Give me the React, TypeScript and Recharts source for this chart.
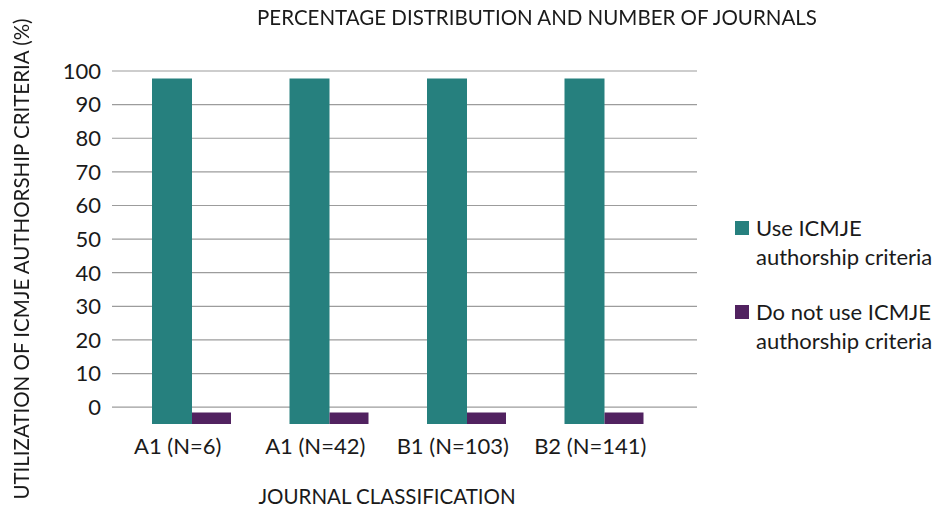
import React from 'react';
import { BarChart, Bar, XAxis, YAxis, CartesianGrid } from 'recharts';

const categories = ['A1 (N=6)', 'A1 (N=42)', 'B1 (N=103)', 'B2 (N=141)'];
const useValues = [97.8, 97.8, 97.8, 97.8];
const notUseValues = [-1.6, -1.6, -1.6, -1.6];
const axisFloor = -5;
const axisCeil = 100;
const yTicks = [0, 10, 20, 30, 40, 50, 60, 70, 80, 90, 100];
const seriesNames = ['Use ICMJE authorship criteria', 'Do not use ICMJE authorship criteria'];
const seriesColors = ['#26807e', '#512260'];

const FONT = 'Lato, "Noto Sans", sans-serif';

const data = categories.map((name, i) => ({
  name,
  use: [axisFloor, useValues[i]],
  notUse: [axisFloor, notUseValues[i]],
}));

const CategoryTick = ({ x, y, payload }: any) => (
  <text x={x - 14} y={y + 22} textAnchor="middle" fontSize={22} fill="#1a1a1a" fontFamily={FONT}>
    {payload.value}
  </text>
);

const legendLines = [
  ['Use ICMJE', 'authorship criteria'],
  ['Do not use ICMJE', 'authorship criteria'],
];

export default function App() {
  return (
    <div style={{ position: 'fixed', left: 0, top: 0, width: 939, height: 512, background: '#fff', fontFamily: FONT }}>
      <BarChart
        width={939}
        height={512}
        data={data}
        margin={{ top: 71, right: 242, bottom: 58, left: 52 }}
        barGap={0}
        barCategoryGap={29}
      >
        <CartesianGrid vertical={false} stroke="#9c9c9c" strokeWidth={1.2} horizontalValues={yTicks} />
        <XAxis
          dataKey="name"
          axisLine={false}
          tickLine={false}
          padding={{ left: 11, right: 24 }}
          tick={<CategoryTick />}
          interval={0}
          height={30}
        />
        <YAxis
          type="number"
          domain={[axisFloor, axisCeil]}
          ticks={yTicks}
          axisLine={false}
          tickLine={false}
          width={60}
          tick={{ fontSize: 22, fill: '#1a1a1a', fontFamily: FONT, dx: -3 }}
          interval={0}
        />
        <Bar dataKey="use" name={seriesNames[0]} fill={seriesColors[0]} barSize={40} isAnimationActive={false} />
        <Bar dataKey="notUse" name={seriesNames[1]} fill={seriesColors[1]} barSize={39} isAnimationActive={false} />
      </BarChart>

      <div style={{ position: 'absolute', left: 0, top: 5, width: 1074, textAlign: 'center', fontSize: 20.5, color: '#1a1a1a' }}>
        PERCENTAGE DISTRIBUTION AND NUMBER OF JOURNALS
      </div>
      <div style={{ position: 'absolute', left: 187, top: 484, width: 400, textAlign: 'center', fontSize: 20.5, color: '#1a1a1a' }}>
        JOURNAL CLASSIFICATION
      </div>
      <div
        style={{
          position: 'absolute',
          left: 21,
          top: 259,
          width: 560,
          textAlign: 'center',
          fontSize: 20.5,
          color: '#1a1a1a',
          transform: 'translate(-50%, -50%) rotate(-90deg)',
          whiteSpace: 'nowrap',
        }}
      >
        UTILIZATION OF ICMJE AUTHORSHIP CRITERIA (%)
      </div>

      {legendLines.map((lines, i) => (
        <div key={i} style={{ position: 'absolute', left: 735, top: 215 + i * 84, display: 'flex', alignItems: 'flex-start' }}>
          <div style={{ width: 14, height: 14, background: seriesColors[i], marginTop: 6, marginRight: 7 }} />
          <div style={{ fontSize: 22, lineHeight: '28.5px', color: '#1a1a1a', marginTop: -1, whiteSpace: 'nowrap' }}>
            {lines.map((l) => (
              <div key={l}>{l}</div>
            ))}
          </div>
        </div>
      ))}
    </div>
  );
}
